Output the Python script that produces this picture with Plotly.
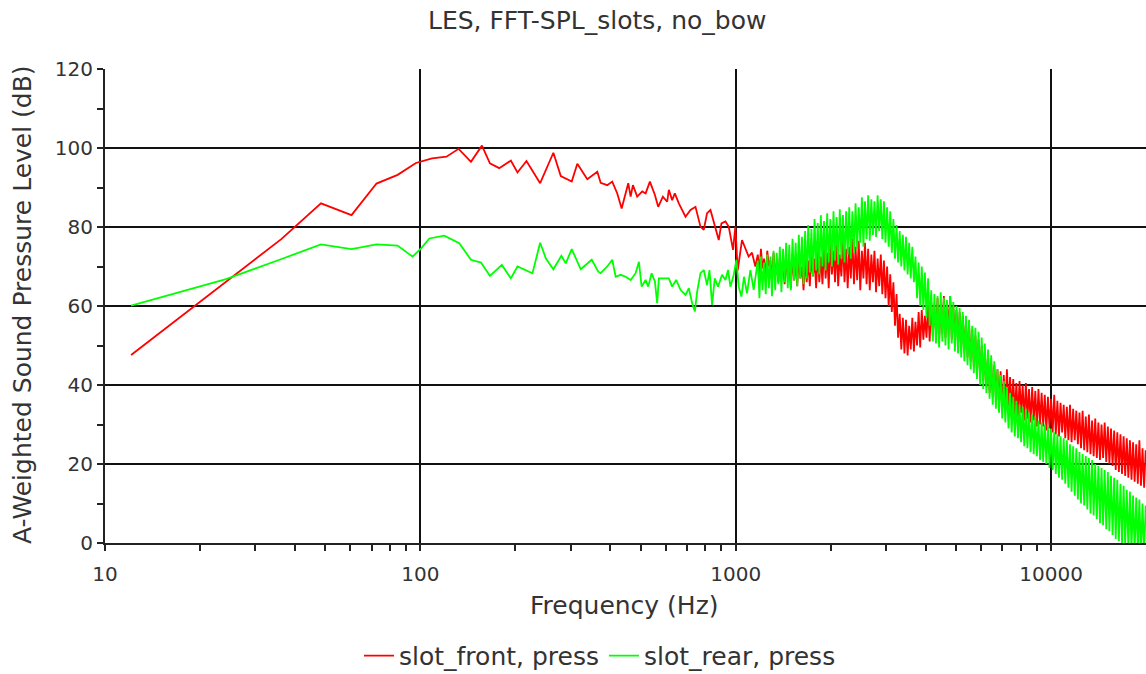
import plotly.graph_objects as go

# ---------------- data ----------------
# low-frequency part, slot_front
freq_lo_front = [12.1, 24.2, 36.3, 48.4, 60.5, 72.6, 84.7, 96.8, 108.9, 121.0,
                 132.2, 144.7, 156.8, 166.2, 177.8, 193.6, 203.2, 217.0, 239.8, 264.1,
                 278.8, 302.0, 314.6, 338.3, 364.0, 373.1, 391.4, 406.0, 421.1, 434.8,
                 445.4, 456.3, 464.3, 472.1, 487.2, 505.3, 517.9, 534.4, 554.3, 567.8,
                 587.5, 606.2, 613.8, 628.7, 641.2, 660.1, 693.1, 718.8, 745.5, 773.2,
                 792.0, 811.3, 831.6, 862.6, 883.5, 901.0, 927.7, 950.2, 980.6, 997.7,
                 1014.6, 1046.9, 1073.2, 1099.3, 1126.1, 1154.2]
spl_lo_front = [47.6, 66.0, 77.0, 86.0, 83.0, 91.0, 93.2, 96.2, 97.4, 97.8,
                99.8, 96.5, 100.6, 96.1, 94.9, 96.8, 93.8, 96.7, 91.1, 98.8,
                92.9, 91.5, 96.0, 92.1, 94.0, 91.2, 90.6, 91.5, 88.5, 84.7,
                87.7, 91.1, 87.7, 90.6, 87.7, 89.0, 88.5, 91.5, 88.1, 85.1,
                87.7, 86.4, 89.4, 86.8, 88.5, 86.0, 82.6, 84.3, 85.1, 80.1,
                79.3, 83.5, 84.3, 80.1, 76.7, 80.9, 81.4, 80.1, 74.2, 80.1,
                69.0, 76.7, 74.6, 72.5, 73.5, 70.0]

# low-frequency part, slot_rear
freq_lo_rear = [12.1, 24.2, 36.3, 48.4, 60.5, 72.6, 84.7, 94.5, 100.5, 106.8,
                119.1, 132.9, 144.7, 155.7, 166.2, 181.3, 193.6, 203.2, 226.7, 239.8,
                249.9, 264.1, 280.0, 289.1, 302.0, 322.5, 349.5, 366.6, 373.1, 391.4,
                406.0, 416.2, 431.6, 447.7, 464.3, 481.5, 493.2, 503.1, 517.9, 527.9,
                541.1, 554.3, 563.6, 570.6, 591.8, 613.8, 628.7, 647.3, 668.3, 693.1,
                710.2, 727.5, 742.0, 754.4, 773.2, 792.0, 811.3, 825.7, 841.4, 858.0,
                879.0, 905.0, 927.7, 945.5, 962.1, 985.6, 1005.0, 1022.0, 1042.3, 1062.4,
                1085.9, 1113.0, 1140.2, 1167.8]
spl_lo_rear = [60.1, 66.8, 71.9, 75.6, 74.4, 75.6, 75.3, 72.5, 74.6, 77.1,
               77.8, 75.9, 71.7, 71.0, 67.6, 70.4, 67.0, 70.0, 68.3, 76.0,
               72.1, 69.3, 72.7, 70.8, 74.4, 69.3, 71.7, 68.7, 68.3, 70.0,
               71.7, 67.4, 67.9, 67.4, 66.6, 68.3, 71.2, 64.9, 66.6, 64.9,
               68.3, 66.2, 60.7, 67.0, 67.0, 67.0, 64.9, 66.6, 64.1, 62.8,
               64.5, 60.7, 58.6, 63.6, 68.3, 69.1, 65.3, 69.1, 60.3, 67.0,
               64.9, 67.9, 66.6, 69.1, 64.9, 67.9, 71.7, 64.9, 62.4, 67.4,
               63.2, 69.1, 64.1, 70.0]

# high-frequency (dense) part, shared frequencies
freq_hi = [1175, 1189, 1202, 1216, 1230, 1245, 1259, 1274, 1288, 1303,
           1318, 1334, 1349, 1365, 1380, 1396, 1413, 1429, 1445, 1462,
           1479, 1496, 1514, 1531, 1549, 1567, 1585, 1603, 1622, 1641,
           1660, 1679, 1698, 1718, 1738, 1758, 1778, 1799, 1820, 1841,
           1862, 1884, 1905, 1928, 1950, 1972, 1995, 2018, 2042, 2065,
           2089, 2113, 2138, 2163, 2188, 2213, 2239, 2265, 2291, 2317,
           2344, 2371, 2399, 2427, 2455, 2483, 2512, 2541, 2570, 2600,
           2630, 2661, 2692, 2723, 2754, 2786, 2818, 2851, 2884, 2917,
           2951, 2985, 3020, 3055, 3090, 3126, 3162, 3199, 3236, 3273,
           3311, 3350, 3388, 3428, 3467, 3508, 3548, 3589, 3631, 3673,
           3715, 3758, 3802, 3846, 3890, 3936, 3981, 4027, 4074, 4121,
           4169, 4217, 4266, 4315, 4365, 4416, 4467, 4519, 4571, 4624,
           4677, 4732, 4786, 4842, 4898, 4955, 5012, 5070, 5129, 5188,
           5248, 5309, 5370, 5433, 5495, 5559, 5623, 5689, 5754, 5821,
           5888, 5957, 6026, 6095, 6166, 6237, 6310, 6383, 6457, 6531,
           6607, 6683, 6761, 6839, 6918, 6998, 7079, 7161, 7244, 7328,
           7413, 7499, 7586, 7674, 7762, 7852, 7943, 8035, 8128, 8222,
           8318, 8414, 8511, 8610, 8710, 8810, 8913, 9016, 9120, 9226,
           9333, 9441, 9550, 9661, 9772, 9886, 10000, 10116, 10233, 10351,
           10471, 10593, 10715, 10839, 10965, 11092, 11220, 11350, 11482, 11614,
           11749, 11885, 12023, 12162, 12303, 12445, 12589, 12735, 12882, 13032,
           13183, 13335, 13490, 13646, 13804, 13964, 14125, 14289, 14454, 14622,
           14791, 14962, 15136, 15311, 15488, 15668, 15849, 16032, 16218, 16406,
           16596, 16788, 16982, 17179, 17378, 17579, 17783, 17989, 18197, 18408,
           18621, 18836, 19055, 19275, 19498, 19724, 19953]
spl_hi_front = [73, 68, 74.5, 69.5, 72, 67, 74, 70, 71.5, 66.5,
                73.5, 67.5, 71, 66, 72.5, 68, 70.5, 65.5, 72, 67,
                70.5, 64.5, 73, 66.5, 71, 65, 72.5, 67, 70, 64,
                72, 66, 71.5, 65, 73, 67.5, 72, 64.5, 74, 66,
                72.5, 65.5, 75, 67, 73.5, 64.5, 76, 68, 74, 66,
                75.5, 65, 73, 67.5, 76.5, 66, 74.5, 64.5, 75, 67,
                77, 65.5, 75, 66.5, 76.5, 64, 74, 67, 76, 65.5,
                74.5, 64, 73, 66, 74, 63.5, 72, 65, 73, 63,
                71.5, 62, 70, 60, 68, 58.5, 66, 55, 63, 52,
                58, 49, 57, 48, 56.5, 47.5, 55, 49, 57, 48.5,
                56, 50, 58.5, 49.5, 59, 51.5, 57.5, 52, 60, 51,
                61, 52.5, 59.5, 53.5, 62, 51, 60.5, 53, 62.5, 52,
                61, 54, 62.5, 51.5, 60, 52.5, 59, 50, 58.5, 49,
                57.5, 48.5, 56, 47, 55.5, 46, 54, 44.5, 52.5, 43,
                51.5, 42.5, 50, 41, 48.5, 39.5, 47.5, 38, 46, 37,
                45, 36.5, 44, 35, 43.5, 34, 42.5, 33.5, 44, 34.5,
                42, 33, 41.5, 32.5, 40.5, 32, 41, 33, 40, 31,
                40.5, 31.5, 39, 30.5, 39.5, 31, 38.5, 29.5, 39, 30,
                38, 29.5, 37.5, 28.5, 37, 29, 36.5, 28, 37.5, 27.5,
                36, 27, 35.5, 28, 35, 26.5, 34.5, 26, 35, 25.5,
                34, 26, 33.5, 25, 33, 24, 33.5, 23.5, 32, 23,
                32.5, 22.5, 31, 22, 31.5, 21.5, 30.5, 21, 30, 21.5,
                30.5, 20.5, 29.5, 20, 29, 19.5, 28.5, 18.5, 28, 18,
                27.5, 17.5, 27, 17, 26.5, 16.5, 26, 16, 25.5, 15.5,
                25, 15, 26, 14.5, 24, 14, 23.5]
spl_hi_rear = [71.5, 62, 72.5, 64, 71, 63, 73, 64.5, 72.5, 62.5,
               74, 64, 73.5, 65.5, 75, 63.5, 74.5, 66, 76, 64.5,
               75.5, 64, 77, 66.5, 76, 65, 78, 67, 77.5, 65.5,
               79, 67, 80.5, 68.5, 79.5, 67.5, 82, 69, 81, 68,
               83, 70, 81.5, 69, 83.5, 71, 82, 70, 84, 71.5,
               82.5, 70.5, 84.5, 72, 83, 71, 84, 73, 85, 72,
               84, 73.5, 86, 74.5, 85, 76, 87.5, 75, 86.5, 77,
               88, 76.5, 87, 78, 86.5, 77.5, 88, 79, 87, 77,
               86.5, 76, 85, 75, 84, 73.5, 82, 72, 80.5, 71,
               79, 70, 78, 69, 77.5, 68, 76, 67, 75, 66,
               72.5, 62, 71, 60, 70, 59, 68.5, 57, 67, 55,
               64, 51, 63, 50.5, 62.5, 49.5, 63.5, 51, 62, 50,
               61.5, 49, 62.5, 50.5, 61, 48.5, 60, 48, 59.5, 47,
               58.5, 46, 57.5, 45, 56.5, 44, 55, 43, 54.5, 41.5,
               53.5, 40, 52, 39, 50.5, 38, 49, 36.5, 47.5, 35,
               46, 34, 44, 33, 42.5, 31.5, 41, 30.5, 39.5, 29,
               38, 28, 37, 27, 36, 26.5, 35, 25.5, 34.5, 24.5,
               34, 24, 33, 23, 32.5, 22.5, 32, 22, 31, 21,
               30.5, 20.5, 30, 20, 29.5, 19, 29, 18.5, 28, 17.5,
               27.5, 16.5, 27, 16, 26.5, 15, 26, 14, 25, 13,
               24.5, 12, 24, 11, 23, 10, 22.5, 9.5, 22, 8.5,
               21.5, 7.5, 21, 7, 20, 6, 19.5, 5, 19, 4.5,
               18.5, 3.5, 18, 3, 17, 2, 16.5, 1, 16, 0.5,
               15, 0, 14.5, -0.5, 13.5, -1, 13, -1.5, 12, -2,
               11.5, -2, 11, -2.5, 10, -3, 9.5]

assert len(freq_lo_front) == len(spl_lo_front)
assert len(freq_lo_rear) == len(spl_lo_rear)
assert len(freq_hi) == len(spl_hi_front) == len(spl_hi_rear)

series_names = ["slot_front, press", "slot_rear, press"]
series_colors = ["#ff0000", "#00ff00"]

x_major = [10, 100, 1000, 10000]
x_minor = [20, 30, 40, 50, 60, 70, 80, 90,
           200, 300, 400, 500, 600, 700, 800, 900,
           2000, 3000, 4000, 5000, 6000, 7000, 8000, 9000]

title_text = "LES, FFT-SPL_slots, no_bow"
x_title = "Frequency (Hz)"
y_title = "A-Weighted Sound Pressure Level (dB)"

# ---------------- figure ----------------
FONT = "DejaVu Sans"
TXT = "#333333"
fig = go.Figure()
fig.add_trace(go.Scatter(x=freq_lo_front + freq_hi, y=spl_lo_front + spl_hi_front,
                         mode="lines", name=series_names[0],
                         line=dict(color=series_colors[0], width=1.8)))
fig.add_trace(go.Scatter(x=freq_lo_rear + freq_hi, y=spl_lo_rear + spl_hi_rear,
                         mode="lines", name=series_names[1],
                         line=dict(color=series_colors[1], width=1.8)))

fig.update_layout(
    width=1146, height=674,
    margin=dict(l=105, r=0, t=69, b=131, autoexpand=False),
    paper_bgcolor="white", plot_bgcolor="white",
    font=dict(family=FONT, size=20, color=TXT),
    showlegend=True,
    legend=dict(orientation="h", x=0.4755, xanchor="center", y=-0.238, yanchor="middle",
                font=dict(size=25, color=TXT), itemwidth=30,
                bgcolor="rgba(0,0,0,0)"),
    annotations=[
        dict(text=title_text, xref="paper", yref="paper", x=0.4726, y=1.103,
             showarrow=False, font=dict(size=25, color=TXT),
             xanchor="center", yanchor="middle"),
        dict(text=x_title, xref="paper", yref="paper", x=0.4995, y=-0.131,
             showarrow=False, font=dict(size=25, color=TXT),
             xanchor="center", yanchor="middle"),
        dict(text=y_title, xref="paper", yref="paper", x=-0.0797, y=0.502,
             showarrow=False, textangle=-90, font=dict(size=25, color=TXT),
             xanchor="center", yanchor="middle"),
    ],
)

fig.update_xaxes(
    type="log", range=[1, 4.301],
    tickvals=x_major, ticktext=[str(v) for v in x_major],
    ticks="outside", ticklen=6, tickwidth=2, tickcolor="#222222",
    showgrid=True, gridcolor="#111111", gridwidth=2,
    showline=True, linecolor="#222222", linewidth=2,
    zeroline=False, ticklabelstandoff=6,
    tickfont=dict(size=20, color=TXT),
    minor=dict(tickvals=x_minor, ticks="outside", ticklen=6, tickwidth=2,
               tickcolor="#222222", showgrid=False),
)
fig.update_yaxes(
    range=[0, 120], tick0=0, dtick=20,
    ticks="outside", ticklen=6, tickwidth=2, tickcolor="#222222",
    showgrid=True, gridcolor="#111111", gridwidth=2,
    showline=True, linecolor="#222222", linewidth=2,
    zeroline=False,
    tickfont=dict(size=20, color=TXT),
    minor=dict(dtick=10, ticks="outside", ticklen=6, tickwidth=2,
               tickcolor="#222222", showgrid=False),
)

fig.write_html("out.html")
